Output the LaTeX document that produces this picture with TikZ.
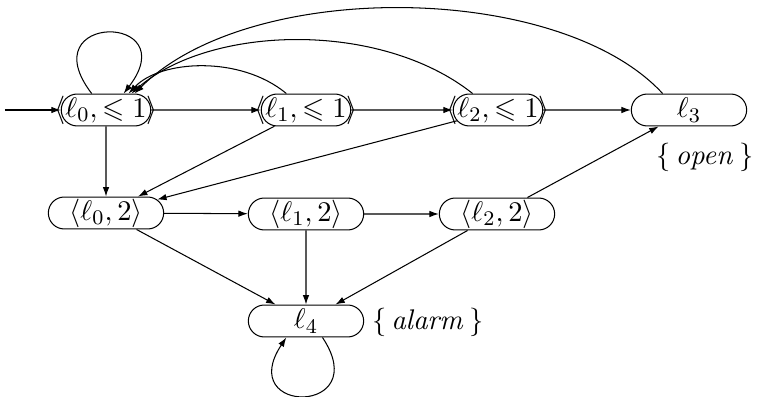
\documentclass[tikz,border=0pt]{standalone}
\usepackage{amssymb}
\usetikzlibrary{arrows.meta,shapes.misc}
\begin{document}
\begin{tikzpicture}[x=0.385pt,y=-0.385pt,
  every node/.style={font=\fontsize{11}{13}\selectfont},
  state/.style={rounded rectangle, rounded rectangle arc length=180, draw,
    minimum width=32.4pt, minimum height=12.3pt, inner xsep=-6pt, inner ysep=0pt},
  edge/.style={-{Latex[length=3.6pt,width=2.5pt]}},
  lab/.style={inner sep=0pt}]
\useasboundingbox (0,0) rectangle (758,397);
% nodes
\node[state] (A0) at (106,110) {$\langle \ell_0, \leqslant 1\rangle$};
\node[state] (A1) at (306,110) {$\langle \ell_1, \leqslant 1\rangle$};
\node[state] (A2) at (498,110) {$\langle \ell_2, \leqslant 1\rangle$};
\node[state] (L3) at (689,110) {$\ell_3$};
\node[state] (B0) at (106,213) {$\langle \ell_0, 2\rangle$};
\node[state] (B1) at (306,214) {$\langle \ell_1, 2\rangle$};
\node[state] (B2) at (497,214) {$\langle \ell_2, 2\rangle$};
\node[state] (L4) at (306,321) {$\ell_4$};
\node[lab] (open) at (705,157) {$\{\,\mathit{open}\,\}$};
\node[lab] (alarm) at (428,322) {$\{\,\mathit{alarm}\,\}$};
\coordinate (init) at (5,110);
% edges
\draw[edge] (init) -- (A0);
\draw[edge] (A0) -- (A1);
\draw[edge] (A1) -- (A2);
\draw[edge] (A2) -- (L3);
\draw[edge] (A0) -- (B0);
\draw[edge] (A1) -- (B0);
\draw[edge] (A2) -- (B0);
\draw[edge] (B0) -- (B1);
\draw[edge] (B1) -- (B2);
\draw[edge] (B2) -- (L3);
\draw[edge] (B0) -- (L4);
\draw[edge] (B1) -- (L4);
\draw[edge] (B2) -- (L4);
% self loops
\draw[edge] (A0.131) .. controls +(-62,-81) and +(62,-81) .. (A0.43);
\draw[edge] (L4.-45) .. controls +(52,78) and +(-52,78) .. (L4.-140);
% back edges
\draw[edge] (A1.140) .. controls (240,55) and (160,60) .. (A0.36);
\draw[edge] (A2.147) .. controls (380,20) and (210,25) .. (A0.33);
\draw[edge] (L3.148) .. controls (560,-18) and (250,-22) .. (A0.30);
\end{tikzpicture}
\end{document}
